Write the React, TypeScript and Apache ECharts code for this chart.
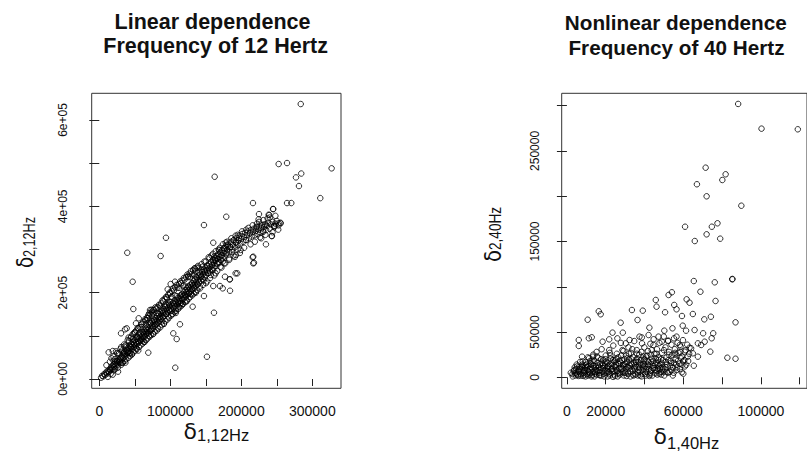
import React, { useEffect, useRef } from 'react';
import * as echarts from 'echarts';

// values in thousands
const leftPoints: number[][] = [
  [2.5,3],[4,7.5],[5.5,6],[6.8,11],[8,9],[9.2,14.5],[10.5,17],[11,12.5],[12.7,19],[13.5,16],[14.8,23.5],[15.3,20],[16.9,25],[17.4,29],[18.6,24],[19.8,33],[20.5,28],[21.2,35],[22.7,31],[23.1,38.5],[24.6,36],[25.4,42],[26.2,33],[27.5,44],[28.3,40],[29.1,47],[29.8,37],[30.6,50],
  [31.4,45],[32.2,53],[33.7,49],[34.1,57],[34.9,62],[35.6,52],[36.3,59],[37.8,65],[38.2,55],[39.5,68],[39.9,61],[40.7,72],[41.6,63],[42.3,69],[43.1,77],[43.8,60],[44.6,74],[45.2,81],[46.4,70],[46.9,78],[47.7,86],[48.5,73],[49.2,82],[49.9,90],[50.8,78],[51.3,85],[52.6,93],[53.2,81],[53.9,97],[54.7,88],[55.5,84],[56.1,94],[56.8,101],[57.6,89],[58.4,97],[59.1,105],[59.7,92],[60.5,100],
  [61.2,108],[62,96],[62.9,104],[63.6,112],[64.3,99],[65.1,109],[65.8,117],[66.6,104],[67.4,113],[68.1,121],[68.9,107],[69.5,116],[70.3,126],[71.1,111],[71.8,120],[72.5,130],[73.3,115],[74.2,124],[74.8,133],[75.6,119],[76.4,128],[77.1,137],[77.9,123],[78.6,132],[79.3,141],[80.2,127],[80.9,136],[81.7,146],[82.4,131],[83.2,140],[83.9,150],[84.7,135],[85.4,144],[86.2,154],[86.9,139],[87.6,148],[88.4,158],[89.3,143],[89.9,153],[90.7,162],[91.5,147],[92.2,157],[93,167],[93.8,151],[94.5,161],[95.2,171],[96.1,155],[96.8,165],[97.5,175],[98.3,160],[99.1,169],[99.8,179],
  [100.6,163],[101.4,172],[102.1,158],[102.9,168],[103.7,177],[104.4,164],[105.2,173],[105.9,182],[106.7,168],[107.5,178],[108.2,163],[109,183],[109.8,173],[110.5,188],[111.3,177],[112.1,168],[112.8,186],[113.6,180],[114.4,193],[115.1,176],[115.9,189],[116.7,197],[117.4,184],[118.2,192],[119,201],[119.7,187],[120.5,196],[121.3,206],[122,191],[122.8,201],[123.6,210],[124.3,196],[125.1,205],[125.9,214],[126.6,199],[127.4,209],[128.2,218],[128.9,203],[129.7,213],[130.5,222],[131.2,207],[132,217],[132.8,227],[133.5,211],[134.3,221],[135.1,231],[135.8,216],[136.6,225],[137.4,235],[138.1,219],[138.9,229],[139.7,239],
  [140.5,224],[141.3,233],[142.2,242],[143,228],[143.8,238],[144.7,248],[145.5,232],[146.3,243],[147.2,253],[148,236],[148.9,247],[149.7,257],[150.6,241],[151.4,252],[152.3,262],[153.1,245],[154,256],[154.8,266],[155.7,250],[156.5,260],[157.4,271],[158.2,254],[159.1,265],[160,276],[160.8,258],[161.7,269],[162.5,280],[163.4,262],[164.2,274],[165.1,285],[166,267],[166.8,278],[167.7,289],[168.5,271],[169.4,283],[170.3,294],[171.1,276],[172,287],[172.8,298],[173.7,280],[174.6,292],[175.4,303],[176.3,284],[177.1,296],[178,307],[178.9,289],
  [180.2,300],[181.5,312],[182.8,295],[184.1,306],[185.5,318],[186.8,300],[188.1,311],[189.4,322],[190.8,305],[192.1,316],[193.4,327],[194.7,310],[196.1,321],[197.4,332],[198.7,314],[200,325],[201.4,336],[202.7,318],[204,329],[205.3,339],[206.7,322],[208,333],[209.3,342],[210.6,326],[212,337],[213.3,345],[214.6,330],[216,340],[217.3,348],[218.6,333],[220,343],[221.3,351],[222.7,336],[224,346],[225.3,354],[226.7,339],[228,349],[229.4,357],[230.7,342],[232,352],[233.4,359],[235,345],[236.5,355],[238,362],[240,348],[242,358],[244,364],[246.5,352],[248,360],[250,366],[252.5,356],[255,362],
  [10,32],[12,5],[15,40],[16,12],[20,52],[21,20],[22,46],[25,60],[26,26],[27,58],[30,70],[31,33],[32,66],[33,38],[35,80],[36,42],[37,78],[38,46],[40,90],[41,49],[42,88],[43,53],[44,95],[45,98],[46,57],[47,104],[48,62],[49,106],[50,108],[51,66],[52,112],[53,70],[54,118],[55,117],[56,74],[57,120],[58,78],[59,126],[60,128],[61,82],[62,132],[63,86],[64,138],[65,136],[66,90],[67,142],[68,94],[69,148],[70,145],[71,98],[72,150],[73,102],[74,156],[75,152],[76,105],[77,160],[78,110],[79,166],[80,163],[81,112],[82,166],[83,116],[84,172],[85,170],[86,120],[87,175],[88,126],[89,182],[90,180],[91,128],[92,186],[93,134],[94,190],[95,189],[96,138],[97,195],[98,142],[99,200],
  [100,198],[101,147],[102,204],[103,150],[104,210],[105,205],[106,155],[107,212],[108,158],[109,218],[110,212],[111,162],[112,220],[113,166],[114,226],[115,222],[116,170],[117,228],[118,174],[119,234],[120,230],[121,178],[122,236],[123,182],[124,242],[125,236],[126,186],[127,244],[128,190],[129,250],[130,243],[131,194],[132,252],[133,198],[134,256],[135,250],[136,200],[137,258],[138,206],[139,262],
  [140,258],[142,210],[144,266],[146,218],[148,272],[150,272],[152,226],[154,282],[156,234],[158,286],[160,290],[162,240],[164,296],[166,250],[168,300],[170,304],[172,258],[174,312],[176,268],[178,316],[180,318],[183,276],[186,326],[189,286],[192,332],[195,334],[198,292],[201,342],[204,304],[207,346],[210,350],[213,312],[216,356],[219,318],[222,360],[225,364],[228,326],[231,368],[234,334],[237,372],[240,374],[244,340],[248,378],[252,346],
  [15.6,21],[17.1,48],[18.9,10],[20.2,42],[21.8,23],[23.5,64],[24.9,41],[26.4,17],[27.9,60],[29.3,40],[30.9,74],[32.5,37],[33.8,60],[35.3,75],[36.8,38],[38.4,75],[39.7,61],[41.2,96],[42.8,60],[44.1,75],[45.7,57],[47.2,93],[48.8,79],[50.3,109],[51.7,71],[53.3,96],[54.9,66],[56.3,106],[57.8,89],[59.4,120],[60.8,89],[62.3,107],[63.9,86],[65.4,127],[66.8,108],[68.4,141],[69.9,100],[71.3,129],[72.9,112],[74.4,146],[75.9,104],[77.4,135],[78.9,126],[80.5,153],[81.9,119],[83.4,152],[85,141],[86.5,168],[87.9,133],[89.5,154],[91,128],[92.4,170],[94,150],[95.5,186],[96.9,145],[98.5,172],
  [100,157],[101.5,190],[103.1,151],[104.6,176],[106.2,194],[107.7,153],[109.2,192],[110.8,179],[112.3,211],[113.8,175],[115.4,195],[116.9,174],[118.4,216],[120,195],[121.5,214],[123,180],[124.6,214],[126.1,198],[127.6,236],[129.2,197],[130.7,221],[132.2,217],[133.8,241],[135.3,202],[136.8,236],[138.4,219],[140,247],[141.7,214],[143.4,237],[145.1,260],[146.8,228],[148.5,250],[150.2,222],[151.9,263],[153.6,246],[155.3,280],[157,241],[158.7,263],[160.4,253],[162.1,284],[163.8,245],[165.5,279],[167.2,269],[168.9,298],[170.6,260],[172.3,286],[174,272],[175.7,303],[177.4,268],[179.1,292],[181,307],[183,279],[185,305],[187,294],[189,321],[191,283],[193,316],[195,300],[197,327],[199,299],
  [283.7,637],[252.6,498],[264.4,500.3],[327.2,488],[162.5,468.5],[277,467],[284.4,476],[281.2,447],[311.2,419],[216.4,407.6],[264.4,407.6],[270.4,407.6],[244.6,393.7],[238.5,380.5],[224.9,382],[178.8,375.9],[147.4,356.6],[93.9,327.2],[160.5,315.7],[39.4,292.5],[86.4,284.9],[47,225.3],[47.9,162.1],[161.5,153.6],[151.6,51.6],[107,26.2],[109,92.6],[104.2,105.8],[13.2,61.8],[18.9,64.8],[36.2,115.1],[69,61],[184.1,204.5],[173.8,210],[183.6,230.9],[192,244.8],[216,281.9],[217.8,269.4],[234.7,312],[243.2,331.2],[252.6,360.7],[255.4,360.7],[246.4,355.1],[224.4,369.8],[221.6,352.8],[234.3,356],[206.6,322],[71.4,159.8],[73.5,160.5],
  [30.6,105.8],[38.6,117.4],[51.7,129],[70.4,152.2],[76,159.8],[55.5,140.6],[66.7,136.6],[96.3,207.7],[106.6,225.4],[100.5,220],[113.6,126.7],[134.7,256.4],[125.3,238.5],[144.2,252.4],[147.4,192.2],[131.5,167.5],[162.9,275.6],[160.5,215.4],[169.9,215.4],[184,230.9],[177,237],[194.3,244.8],[192.5,287.2],[179.4,310.3],[216.8,267.9],[216.8,283.3],[230.9,341.2],[226.3,328.2],[242.7,331.2],[246,354.3],[239.4,379.8],[245,393.7]
];

const rightPoints: number[][] = [
  [2,5],[2.8,3.5],[3.5,7],[4.2,4.5],[4.8,9],[5.5,2.5],[5.9,6],[6.4,11.5],[7,4],[7.5,8.5],[7.9,14],[8.4,1.5],[8.8,6.5],[9.3,10.5],[9.8,17],[10.2,3.5],
  [10.6,8],[11,12.5],[11.4,21],[11.9,5],[12.3,15.5],[12.7,1],[13.1,9.5],[13.6,25],[14,18],[14.4,4],[14.9,12],[15.3,28],[15.7,7],[16.2,21.5],[16.6,2.5],[17,14.5],[17.5,10],[17.9,31],[18.3,6],[18.8,19],[19.2,1],[19.6,12.5],[20,24],
  [20.5,4.5],[20.9,16],[21.3,9],[21.8,30],[22.2,2],[22.6,20.5],[23.1,13],[23.5,6.5],[23.9,35],[24.4,17.5],[24.8,1.5],[25.2,11],[25.7,26],[26.1,7],[26.5,22],[27,14.5],[27.4,3],[27.8,38],[28.3,19],[28.7,9.5],[29.1,29],[29.6,5],[30,15],
  [30.4,24],[30.8,1.5],[31.3,11.5],[31.7,33],[32.1,19.5],[32.6,6.5],[33,27],[33.4,14],[33.9,3],[34.3,22],[34.7,40],[35.2,9],[35.6,17],[36,30],[36.5,5.5],[36.9,12],[37.3,25],[37.8,2],[38.2,19],[38.6,44],[39.1,8],[39.5,15],[39.9,33],
  [40.4,4],[40.8,23],[41.2,11],[41.7,29],[42.1,17],[42.5,1.5],[43,37],[43.4,7.5],[43.8,20.5],[44.3,13],[44.7,42],[45.1,26],[45.6,4.5],[46,16],[46.4,31],[46.9,9.5],[47.3,22],[47.7,38],[48.2,14],[48.6,3],[49,27],[49.5,19],[49.9,45],
  [50.4,9],[50.8,33],[51.3,22],[51.7,14],[52.1,40],[52.6,28],[53,6],[53.4,18],[53.9,36],[54.3,25],[54.7,11],[55.2,43],[55.6,31],[56,20],[56.5,8],[57,38],[57.5,27],[58,15],[58.6,34],[59.2,23],[59.8,41],[60.5,19],[61.2,30],[62,36],[63,26],[64,32],
  [3,1],[4,11],[5,14],[6,1.5],[6.8,17],[8,11],[9,3],[10,14],[10.8,22],[11.6,3],[12.4,11],[13.2,18],[14.2,1],[15,8],[15.9,16],[16.8,5],[17.6,20],[18.5,13],[19.4,8],[20.2,17],[21,1],[21.6,13],[22.4,24],[23.3,9],[24.1,3],[24.9,19],[25.5,8],[26.3,15],[27.2,5],[28,24],[28.9,13],[29.4,2],[30.2,9],[31,17],[31.9,26],[32.8,1],[33.5,9],[34.5,16],[35.4,3],[36.2,21],[37,8],[37.6,15],[38.5,1],[39.3,23],[40.1,12],[40.9,6],[41.5,18],[42.3,9],[43.2,25],[44,2],[45,10],[45.8,21],[46.6,3],[47.5,13],[48.4,6],[49.3,11],[50.2,2],[51,17],[52,5],[53.2,12],[54.6,2],[56.3,14],[58.2,9],[60,4],
  [4.5,2],[5.2,12],[6,7.5],[7.2,2],[8.1,17.5],[9,8],[9.6,1],[10.4,11],[11.2,6],[12,18],[12.9,2.5],[13.8,13],[14.6,6],[15.5,23],[16.4,11],[17.2,2],[18,16],[19,4],[19.8,20],[20.7,11],[21.5,6],[22.1,27],[23,16],[23.8,0.5],[24.6,12],[25.4,21],[26.3,4],[27.1,18],[27.9,9],[28.6,30],[29.5,14],[30.3,5],[31.1,21],[32,10],[32.9,16],[33.7,31],[34.4,2],[35.3,13],[36.1,26],[36.8,17],[37.5,6],[38.4,28],[39.2,12],[40,19],[40.7,2],[41.4,24],[42.2,13],[43,5],[43.7,30],[44.5,18],[45.3,8],[46.1,26],[46.8,14],[47.6,4],[48.5,20],[49.2,9],[50,30],[51.5,6],[52.5,25],[53.6,16],[55,5],[55.8,27],[57.2,18],[58.5,28],[59.5,14],
  [3.8,8],[5,4],[6.6,9],[7.6,12],[8.6,5],[9.5,13],[10.9,2],[11.8,9],[12.6,14],[13.4,6],[14.3,10],[15.2,3],[16,13],[16.9,8],[17.8,2],[18.6,10],[19.5,16],[20.4,7],[21.2,12],[22,4],[22.9,9],[23.7,19],[24.5,7],[25.3,14],[26.2,1],[27,10],[27.8,16],[28.7,6],[29.7,20],[30.6,12],[31.5,4],[32.4,13],[33.2,20],[34,7],[34.9,11],[35.8,19],[36.6,2],[37.4,10],[38.3,14],[39.1,4],[39.9,20],[40.8,9],[41.7,14],[42.6,3],[43.5,17],[44.3,10],[45.4,14],[46.3,7],[47.1,19],[48,10],[48.9,16],[49.8,6],[51.2,11],[52.3,19],[53.8,8],[55.2,16],[56.8,11],[58.8,21],[60.8,12],[62.5,18],
  [6.1,41.2],[6.1,34.6],[11.3,43.1],[12.8,44.2],[7.8,22.8],[10.7,63.6],[16.4,72.9],[17.4,69.6],[23.5,49.3],[28.8,49.3],[32.3,41.2],[33.5,74.3],[39.1,73.6],[27.7,60.3],[36.4,63.3],[42.5,54.8],[45.8,85.4],[46.2,78],[50.6,71.8],[52.4,90.9],[54.1,93.9],[50.2,51.5],[54.4,54.1],[55.3,79.9],[56.5,75.1],[59.3,67.7],[59.7,57],[61.4,51.5],[65.8,52.2],[61.7,86.1],[63.2,82.4],[64.9,69.9],[65.4,106.3],[68.8,94.5],[70.2,48.6],[71,39.3],[74.6,43.1],[75.4,48.6],[70.8,64],[74.2,66.9],[76.2,104.9],[76.6,84.3],[73.9,28.3],[65.4,12.8],[59.2,5.5],
  [13.4,22.8],[18.4,39.3],[21.8,41.9],[26,43],[30.3,37.5],[37.4,44.9],[38.7,37.5],[42.1,46.7],[44.6,35.7],[47.2,44.9],[48.9,39.3],[52.2,40.5],[56.5,44.9],[58.2,35.7],[60.7,28.3],[62.3,22.8],[63.2,32.7],[60,17.6],[55.9,24.9],[61.5,13.9],[67.5,37.5],[69.2,35.7],[64.9,26.5],[67.5,22.8],
  [88.25,301.9],[100.3,274.6],[119,273.9],[71.5,231.5],[81.8,224.2],[80.1,217.9],[67,213.2],[72,199.9],[89.9,189.5],[60.9,166.3],[74.7,166.3],[77.6,170.1],[72,157.9],[65.9,150.5],[79,153.1],[85.2,108.2],[85.3,108.6],[86.9,60.7],[82.7,21.6],[86.9,20.5]
];

const leftXTicks = [0, 50000, 100000, 150000, 200000, 250000, 300000];
const leftXLabels = [0, 100000, 200000, 300000];
const leftYTicks = [0, 100000, 200000, 300000, 400000, 500000, 600000];
const leftYLabelValues = [0, 200000, 400000, 600000];
const leftYLabelText = ['0e+00', '2e+05', '4e+05', '6e+05'];

const rightXTicks = [0, 20000, 40000, 60000, 80000, 100000, 120000];
const rightXLabels = [0, 20000, 60000, 100000];
const rightYTicks = [0, 50000, 100000, 150000, 200000, 250000, 300000];
const rightYLabels = [0, 50000, 150000, 250000];

const titleLeft = ['Linear dependence', 'Frequency of 12 Hertz'];
const titleRight = ['Nonlinear dependence', 'Frequency of 40 Hertz'];

const FONT = 'Liberation Sans, Arial, sans-serif';
const DFONT = 'DejaVu Sans, sans-serif';
const INK = '#111';

function xAxis(gridIndex: number, min: number, max: number, ticks: number[], labels: number[], fmt: (v: number) => string) {
  return {
    type: 'value', gridIndex, min, max,
    axisLine: { show: false },
    splitLine: { show: false },
    axisTick: { show: true, length: 7, customValues: ticks, lineStyle: { color: '#222', width: 1 } },
    axisLabel: { show: true, customValues: labels, margin: 16, fontSize: 14, fontFamily: FONT, color: INK, formatter: fmt, hideOverlap: false },
  };
}
function yAxis(gridIndex: number, min: number, max: number, ticks: number[], labels: number[], fmt: (v: number) => string, margin: number) {
  return {
    type: 'value', gridIndex, min, max,
    axisLine: { show: false },
    splitLine: { show: false },
    axisTick: { show: true, length: 10, customValues: ticks, lineStyle: { color: '#222', width: 1 } },
    axisLabel: { show: true, customValues: labels, rotate: 90, margin, fontSize: 12, fontFamily: FONT, color: INK, formatter: fmt, hideOverlap: false },
  };
}

function rotatedTitle(sub: string, subStartY: number, deltaCx: number, subCx: number, scale: number) {
  return {
    type: 'group', x: 0, y: 0, rotation: Math.PI / 2, silent: true,
    children: [
      { type: 'text', x: -subStartY, y: deltaCx, scaleX: scale, style: { text: 'δ', fontSize: 23, fontFamily: DFONT, fill: INK, align: 'right', verticalAlign: 'middle' } },
      { type: 'text', x: -subStartY, y: subCx, scaleX: scale, style: { text: sub, fontSize: 16, fontFamily: FONT, fill: INK, align: 'left', verticalAlign: 'middle' } },
    ],
  };
}

function flatTitle(sub: string, subStartX: number, deltaCy: number, subCy: number) {
  return [
    { type: 'text', x: subStartX, y: deltaCy, silent: true, style: { text: 'δ', fontSize: 22, fontFamily: DFONT, fill: INK, align: 'right', verticalAlign: 'middle' } },
    { type: 'text', x: subStartX, y: subCy, silent: true, style: { text: sub, fontSize: 16.5, fontFamily: FONT, fill: INK, align: 'left', verticalAlign: 'middle' } },
  ];
}

export default function App() {
  const ref = useRef<HTMLDivElement>(null);
  useEffect(() => {
    const chart = echarts.init(ref.current!, undefined, { renderer: 'svg' });
    const scatterStyle = {
      type: 'scatter', symbol: 'circle', symbolSize: 5.5, silent: true,
      itemStyle: { color: 'none', borderColor: '#000', borderWidth: 1 },
    };
    const titleStyle = (text: string, size: number) => ({ text, fontSize: size, fontWeight: 'bold', fontFamily: FONT, fill: INK, align: 'center', verticalAlign: 'middle' });
    const option: any = {
      animation: false,
      backgroundColor: '#fff',
      grid: [
        { left: 91.7, top: 93.3, width: 249.3, height: 295, show: true, borderColor: '#333', borderWidth: 1, backgroundColor: 'transparent' },
        { left: 561.7, top: 93.3, width: 249.3, height: 295, show: true, borderColor: '#333', borderWidth: 1, backgroundColor: 'transparent' },
      ],
      xAxis: [
        xAxis(0, -10700, 340400, leftXTicks, leftXLabels, (v: number) => String(v)),
        xAxis(1, -2690, 123740, rightXTicks, rightXLabels, (v: number) => String(v)),
      ],
      yAxis: [
        yAxis(0, -21540, 661850, leftYTicks, leftYLabelValues, (v: number) => leftYLabelText[leftYLabelValues.indexOf(v)] ?? '', 23),
        yAxis(1, -12150, 313650, rightYTicks, rightYLabels, (v: number) => String(v), 21),
      ],
      series: [
        { ...scatterStyle, xAxisIndex: 0, yAxisIndex: 0, data: leftPoints.map(([x, y]) => [x * 1000, y * 1000]) },
        { ...scatterStyle, xAxisIndex: 1, yAxisIndex: 1, data: rightPoints.map(([x, y]) => [x * 1000, y * 1000]) },
      ],
      graphic: [
        { type: 'text', x: 212.5, y: 22.2, silent: true, style: titleStyle(titleLeft[0], 21.5) },
        { type: 'text', x: 215.6, y: 46.3, silent: true, style: titleStyle(titleLeft[1], 21.5) },
        { type: 'text', x: 675.8, y: 22.5, silent: true, style: titleStyle(titleRight[0], 20.7) },
        { type: 'text', x: 676.5, y: 47.8, silent: true, style: titleStyle(titleRight[1], 20.7) },
        ...flatTitle('1,12Hz', 197, 431.5, 434.5),
        ...flatTitle('1,40Hz', 667, 436, 442.5),
        rotatedTitle('2,12Hz', 257, 25, 29.2, 0.79),
        rotatedTitle('2,40Hz', 250, 493.3, 495.5, 0.85),
      ],
    };
    chart.setOption(option);
    return () => chart.dispose();
  }, []);
  return <div ref={ref} style={{ position: 'absolute', left: 0, top: 0, width: 807, height: 452, background: '#fff' }} />;
}
